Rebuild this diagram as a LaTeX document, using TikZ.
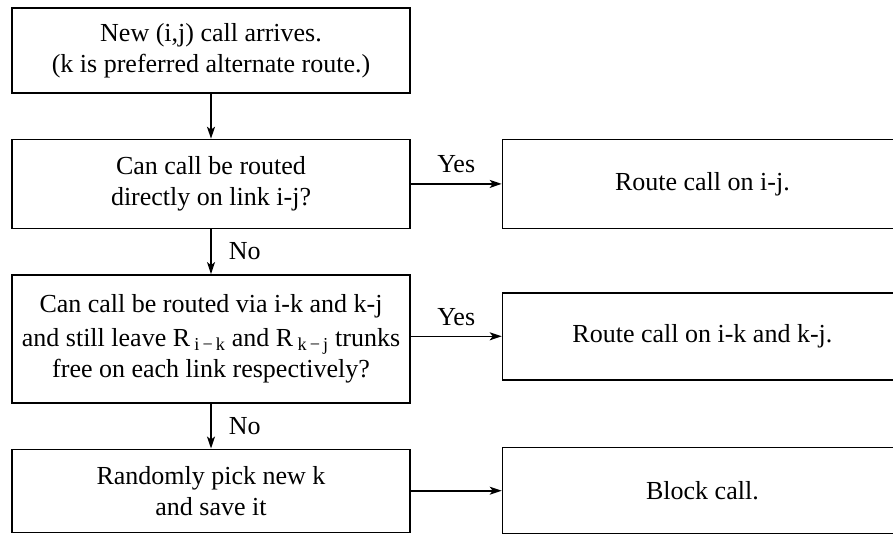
\documentclass[tikz,border=0pt]{standalone}
\usepackage{fontspec}
\setmainfont{Liberation Serif}
\usetikzlibrary{arrows.meta, positioning}

\begin{document}
\begin{tikzpicture}[> = {Stealth[length=12pt, width=8pt, inset=3pt]}, % arrow head style
                x = 1pt, y = -1pt, % one unit per pixel of the scan
                node distance = 45pt, % gap between boxes
                line width = 1.4pt % line style
            ]

            \tikzstyle{box}=[draw = black, rectangle, align = center,
            minimum width = 398pt, inner sep = 2pt,
            font = \fontsize{26}{31}\selectfont]
            \tikzstyle{sidebox}=[box, minimum width = 400pt]
            \tikzstyle{lbl}=[font = \fontsize{26}{31}\selectfont, inner sep = 2pt]
            \tikzstyle{every edge}=[draw, line width = 1.6pt]

            \useasboundingbox (0,0) rectangle (893,536);

            % left column
            \node[box, minimum height = 85pt] (arrive) at (211,50.5)
            {New (i,j) call arrives.\\(k is preferred alternate route.)};
            \node[box, minimum height = 89pt] (direct) [below=of arrive]
            {Can call be routed\\directly on link i-j?};
            \node[box, minimum height = 128pt] (alt) [below=45pt of direct]
            {Can call be routed via i-k and k-j\\[3pt]and still leave
            R\,\textsubscript{i\,−\,k} and R\,\textsubscript{k\,−\,j} trunks\\free
            on each link respectively?};
            \node[box, minimum height = 83pt] (pick) [below=45pt of alt]
            {Randomly pick new k\\and save it};

            % right column
            \node[sidebox, minimum height = 89pt] (routeij) [right=91pt of direct]
            {Route call on i-j.};
            \node[sidebox, minimum height = 87pt] (routeikj) [right=91pt of alt,
            yshift = 2.5pt] {Route call on i-k and k-j.};
            \node[sidebox, minimum height = 86pt] (block) [right=91pt of pick]
            {Block call.};

            \path[->] (arrive) edge (direct);
            \path[->] (direct) edge node[lbl, right=15pt] {No} (alt);
            \path[->] (alt) edge node[lbl, right=15pt] {No} (pick);
            \path[->] (direct) edge node[lbl, above=8pt] {Yes} (routeij);
            \path[->] (alt.east |- routeikj) edge node[lbl, above=8pt] {Yes}
            (routeikj);
            \path[->] (pick) edge (block);
\end{tikzpicture}
\end{document}
